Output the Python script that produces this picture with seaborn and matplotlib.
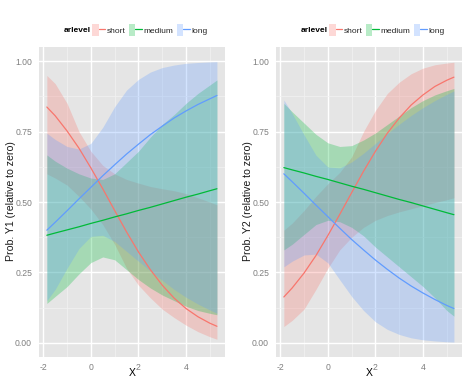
import numpy as np
import pandas as pd
import seaborn as sns
import matplotlib
matplotlib.use("Agg")
import matplotlib.pyplot as plt
from matplotlib.patches import Patch
from matplotlib.lines import Line2D
from matplotlib.legend_handler import HandlerTuple

# predictor grid
x = [-1.85, -1.5, -1, -0.5, 0, 0.5, 1, 1.5, 2, 2.5, 3, 3.5, 4, 4.5, 5, 5.3]

levels = ["short", "medium", "long"]
colors = {"short": "#F8766D", "medium": "#00BA38", "long": "#619CFF"}

# Y1 panel
y1_short = [0.837, 0.806, 0.752, 0.691, 0.621, 0.547, 0.470, 0.394, 0.323, 0.260, 0.205, 0.159, 0.122, 0.093, 0.070, 0.059]
y1_short_lo = [0.600, 0.585, 0.560, 0.520, 0.475, 0.420, 0.350, 0.265, 0.205, 0.160, 0.120, 0.090, 0.063, 0.040, 0.022, 0.013]
y1_short_hi = [0.949, 0.920, 0.850, 0.750, 0.680, 0.630, 0.600, 0.580, 0.567, 0.555, 0.547, 0.540, 0.530, 0.515, 0.500, 0.490]

y1_medium = [0.382, 0.390, 0.401, 0.412, 0.424, 0.435, 0.447, 0.458, 0.470, 0.481, 0.493, 0.505, 0.517, 0.528, 0.540, 0.547]
y1_medium_lo = [0.140, 0.165, 0.200, 0.245, 0.285, 0.305, 0.295, 0.260, 0.225, 0.195, 0.170, 0.150, 0.130, 0.115, 0.105, 0.100]
y1_medium_hi = [0.667, 0.645, 0.620, 0.600, 0.585, 0.580, 0.600, 0.640, 0.680, 0.730, 0.775, 0.810, 0.850, 0.885, 0.915, 0.933]

y1_long = [0.400, 0.428, 0.469, 0.511, 0.552, 0.593, 0.632, 0.670, 0.705, 0.739, 0.769, 0.798, 0.823, 0.846, 0.866, 0.878]
y1_long_lo = [0.150, 0.190, 0.265, 0.335, 0.378, 0.382, 0.360, 0.325, 0.290, 0.255, 0.222, 0.190, 0.162, 0.138, 0.117, 0.105]
y1_long_hi = [0.744, 0.722, 0.697, 0.688, 0.708, 0.765, 0.838, 0.897, 0.935, 0.961, 0.977, 0.986, 0.992, 0.995, 0.997, 0.998]

# Y2 panel
y2_short = [0.163, 0.195, 0.248, 0.310, 0.381, 0.456, 0.533, 0.609, 0.680, 0.744, 0.798, 0.844, 0.880, 0.910, 0.932, 0.943]
y2_short_lo = [0.058, 0.080, 0.120, 0.190, 0.265, 0.330, 0.375, 0.410, 0.435, 0.452, 0.465, 0.476, 0.487, 0.498, 0.508, 0.515]
y2_short_hi = [0.400, 0.425, 0.470, 0.520, 0.565, 0.605, 0.660, 0.750, 0.825, 0.885, 0.925, 0.955, 0.975, 0.987, 0.993, 0.996]

y2_medium = [0.622, 0.614, 0.603, 0.591, 0.580, 0.568, 0.556, 0.545, 0.533, 0.521, 0.509, 0.498, 0.486, 0.474, 0.462, 0.455]
y2_medium_lo = [0.330, 0.350, 0.385, 0.420, 0.435, 0.430, 0.410, 0.380, 0.340, 0.305, 0.270, 0.235, 0.200, 0.160, 0.115, 0.095]
y2_medium_hi = [0.850, 0.820, 0.780, 0.740, 0.710, 0.697, 0.700, 0.720, 0.745, 0.775, 0.805, 0.835, 0.860, 0.880, 0.895, 0.903]

y2_long = [0.600, 0.572, 0.531, 0.489, 0.448, 0.407, 0.367, 0.330, 0.294, 0.261, 0.230, 0.202, 0.177, 0.154, 0.133, 0.122]
y2_long_lo = [0.270, 0.290, 0.312, 0.315, 0.284, 0.224, 0.165, 0.115, 0.075, 0.048, 0.030, 0.018, 0.011, 0.007, 0.004, 0.003]
y2_long_hi = [0.862, 0.814, 0.738, 0.666, 0.624, 0.621, 0.642, 0.673, 0.708, 0.743, 0.776, 0.807, 0.835, 0.860, 0.882, 0.894]

panels = {
    "Y1": {"short": (y1_short, y1_short_lo, y1_short_hi),
           "medium": (y1_medium, y1_medium_lo, y1_medium_hi),
           "long": (y1_long, y1_long_lo, y1_long_hi)},
    "Y2": {"short": (y2_short, y2_short_lo, y2_short_hi),
           "medium": (y2_medium, y2_medium_lo, y2_medium_hi),
           "long": (y2_long, y2_long_lo, y2_long_hi)},
}

rows = []
for panel, series in panels.items():
    for lev, (fit, lo, hi) in series.items():
        for xi, f, l, h in zip(x, fit, lo, hi):
            rows.append({"panel": panel, "arlevel": lev, "x": xi, "fit": f, "lo": l, "hi": h})
df = pd.DataFrame(rows)

sns.set_style("darkgrid", {"axes.facecolor": "#E5E5E5", "grid.color": "white"})
plt.rcParams["font.family"] = ["Liberation Sans", "DejaVu Sans"]
plt.rcParams["axes.unicode_minus"] = False

W, H = 474, 385
fig = plt.figure(figsize=(W / 100, H / 100), dpi=100)
fig.patch.set_facecolor("white")

lefts = [39, 276]
for i, panel in enumerate(["Y1", "Y2"]):
    ax = fig.add_axes([lefts[i] / W, 28 / H, 186 / W, 310 / H])
    sub = df[df.panel == panel]
    for lev in levels:
        d = sub[sub.arlevel == lev]
        ax.fill_between(d.x, d.lo, d.hi, color=colors[lev], alpha=0.28, lw=0)
    sns.lineplot(data=sub, x="x", y="fit", hue="arlevel", hue_order=levels,
                 palette=colors, ax=ax, legend=False, lw=0.9, errorbar=None)

    ax.set_xlim(-2.18, 5.64)
    ax.set_ylim(-0.05, 1.05)
    ax.set_xticks([-2, 0, 2, 4])
    ax.set_xticklabels(["-2", "0", "2", "4"])
    ax.set_yticks([0, 0.25, 0.5, 0.75, 1.0])
    ax.set_yticklabels(["0.00", "0.25", "0.50", "0.75", "1.00"])
    ax.set_xticks([-1, 1, 3, 5], minor=True)
    ax.set_yticks([0.125, 0.375, 0.625, 0.875], minor=True)
    ax.grid(which="major", color="white", lw=1.0)
    ax.grid(which="minor", color="#F2F2F2", lw=0.5)
    ax.set_axisbelow(True)
    for s in ax.spines.values():
        s.set_visible(False)
    ax.tick_params(axis="both", which="major", length=3, width=0.8, color="#7F7F7F",
                   labelcolor="#7F7F7F", labelsize=6.2, direction="out")
    ax.tick_params(axis="y", pad=2.0)
    ax.tick_params(axis="x", pad=1.0)
    ax.tick_params(which="minor", length=0)
    ax.set_xlabel("")
    ax.set_ylabel("")

    off = lefts[i] - 39
    fig.text((11 + off) / W, 1 - 201 / H, "Prob. %s (relative to zero)" % panel,
             rotation=90, ha="center", va="center", fontsize=7.6, color="#1A1A1A")
    fig.text((132 + off) / W, 1 - 373 / H, "X", ha="center", va="center",
             fontsize=7.5, color="black")

    # legend on top
    fig.text((64 + off) / W, 1 - 30 / H, "arlevel", ha="left", va="center",
             fontsize=6, fontweight="bold", color="black")
    handles = [(Patch(facecolor=colors[l], alpha=0.28, edgecolor="none"),
                Line2D([], [], color=colors[l], lw=0.9)) for l in levels]
    leg = ax.legend(handles, levels, handler_map={tuple: HandlerTuple(ndivide=None)},
                    loc="center left", bbox_to_anchor=((92 + off) / W, 1 - 30 / H),
                    bbox_transform=fig.transFigure, ncol=3, frameon=False,
                    fontsize=6, borderpad=0, borderaxespad=0,
                    handlelength=1.56, handleheight=1.68, handletextpad=0.24,
                    columnspacing=0.36)

fig.savefig("out.png", dpi=100, facecolor="white")
